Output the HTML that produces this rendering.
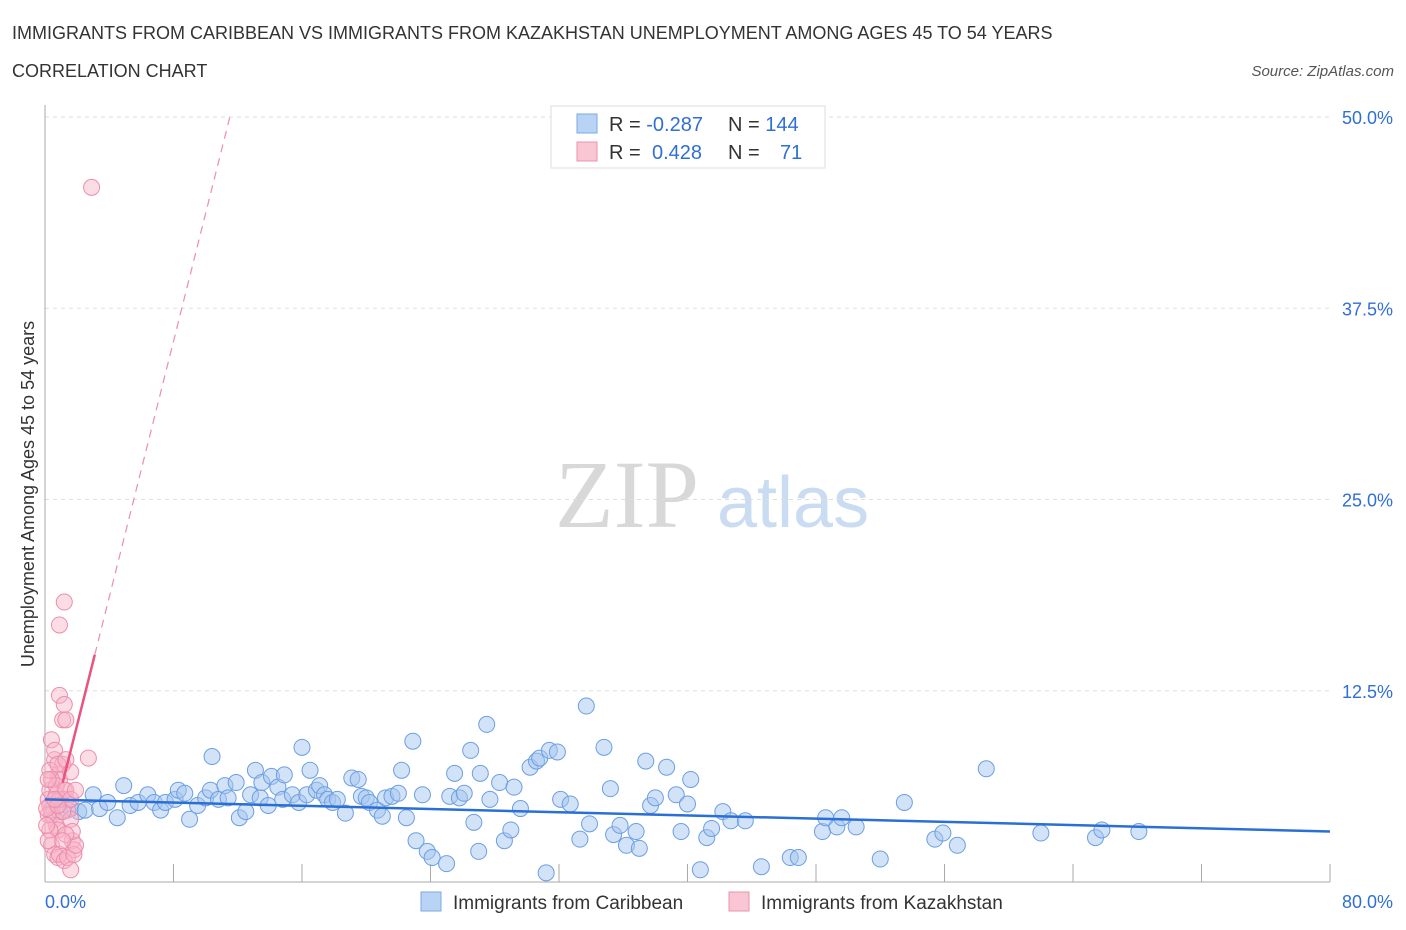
<!DOCTYPE html>
<html><head><meta charset="utf-8"><style>
body{margin:0;background:#fff;font-family:"Liberation Sans",sans-serif}
svg{display:block}
</style></head><body>
<svg id="chart" width="1406" height="930" xmlns="http://www.w3.org/2000/svg" font-family="Liberation Sans, sans-serif">
<text x="12" y="39" font-size="18" fill="#333">IMMIGRANTS FROM CARIBBEAN VS IMMIGRANTS FROM KAZAKHSTAN UNEMPLOYMENT AMONG AGES 45 TO 54 YEARS</text>
<text x="12" y="77" font-size="18" fill="#333">CORRELATION CHART</text>
<text x="1394" y="76" font-size="15" fill="#555" font-style="italic" text-anchor="end">Source: ZipAtlas.com</text>
<g>
<text x="555" y="527" font-size="96" font-family="Liberation Serif, serif" fill="#d8d8d8">ZIP</text>
<text x="717" y="527" font-size="72" fill="#c9dcf2">atlas</text>
</g>
<g id="grid"></g>
<g id="axes"></g>
<g id="marks"></g>
<g>
<rect x="551" y="106" width="274" height="62" fill="#fff" stroke="#ddd"/>
<rect x="577" y="114" width="20" height="19" fill="#b9d3f5" stroke="#7aa8e6"/>
<rect x="577" y="142" width="20" height="19" fill="#f9c6d4" stroke="#eb93ad"/>
<text x="609" y="131" font-size="20" fill="#333">R = <tspan fill="#2f6fd6">-0.287</tspan></text>
<text x="728" y="131" font-size="20" fill="#333">N = <tspan fill="#2f6fd6">144</tspan></text>
<text x="609" y="159" font-size="20" fill="#333">R = <tspan fill="#2f6fd6" x="652">0.428</tspan></text>
<text x="728" y="159" font-size="20" fill="#333">N = <tspan fill="#2f6fd6" x="780">71</tspan></text>
</g>
<g>
<rect x="421" y="892" width="20" height="19" fill="#b9d3f5" stroke="#7aa8e6"/>
<text x="453" y="909" font-size="19" fill="#333">Immigrants from Caribbean</text>
<rect x="729" y="892" width="20" height="19" fill="#f9c6d4" stroke="#eb93ad"/>
<text x="761" y="909" font-size="19" fill="#333">Immigrants from Kazakhstan</text>
</g>
<text transform="translate(34,494) rotate(-90)" font-size="18" fill="#333" text-anchor="middle">Unemployment Among Ages 45 to 54 years</text>
</svg>
<script>
const yTicks=[12.5,25,37.5,50];
const yTickLabels=["12.5%","25.0%","37.5%","50.0%"];
const xTicks=[0,8,16,24,32,40,48,56,64,72,80];
const blueX=[0.4,0.9,1.6,2.1,2.5,3.0,3.4,3.9,4.5,4.9,5.3,5.8,6.4,6.8,7.2,7.5,8.1,8.3,8.7,9.0,9.5,10.0,10.3,10.4,10.8,11.2,11.4,11.9,12.1,12.5,12.8,13.1,13.4,13.5,13.9,14.1,14.5,14.8,14.9,15.4,15.8,16.0,16.3,16.5,16.9,17.1,17.4,17.6,17.9,18.2,18.7,19.1,19.5,19.7,20.0,20.2,20.7,21.0,21.2,21.6,22.0,22.2,22.5,22.9,23.1,23.5,23.8,24.1,25.0,25.2,25.5,25.8,26.1,26.5,26.7,27.0,27.1,27.5,27.7,28.3,28.6,29.0,29.2,29.6,30.2,30.6,30.8,31.2,31.4,31.9,32.1,32.7,33.3,33.7,33.9,34.8,35.2,35.4,35.8,36.2,36.8,37.0,37.4,37.7,38.0,38.7,39.3,39.6,40.0,40.2,40.8,41.2,41.5,42.2,42.7,43.6,44.6,46.4,46.9,48.4,48.6,49.3,49.6,50.5,52.0,53.5,55.4,55.9,56.8,58.6,62.0,65.4,65.8,68.1];
const blueY=[4.7,4.6,4.8,4.6,4.7,5.7,4.8,5.2,4.2,6.3,5.0,5.2,5.7,5.2,4.7,5.2,5.4,6.0,5.8,4.1,5.0,5.5,6.0,8.2,5.4,6.3,5.5,6.5,4.2,4.6,5.7,7.3,5.5,6.5,5.0,6.9,6.2,5.4,7.0,5.7,5.2,8.8,5.7,7.3,6.0,6.3,5.7,5.4,5.2,5.4,4.5,6.8,6.7,5.6,5.5,5.2,4.7,4.3,5.5,5.6,5.8,7.3,4.2,9.2,2.7,5.7,2.0,1.6,1.2,5.6,7.1,5.5,5.8,8.6,3.9,2.0,7.1,10.3,5.4,6.5,2.7,3.4,6.2,4.8,7.5,7.9,8.1,0.6,8.6,8.5,5.4,5.1,2.8,11.5,3.8,8.8,6.1,3.1,3.7,2.4,3.3,2.2,7.9,5.0,5.5,7.5,5.7,3.3,5.1,6.7,0.8,2.9,3.5,4.6,4.0,4.0,1.0,1.6,1.6,3.3,4.2,3.6,4.2,3.6,1.5,5.2,2.8,3.2,2.4,7.4,3.2,2.9,3.4,3.3];
const pinkX=[0.4,0.6,0.8,0.9,1.1,1.2,1.3,1.4,1.6,1.7,1.8,0.9,1.1,1.2,1.3,0.9,1.2,2.9,2.7,0.2,0.3,0.4,0.6,0.7,0.8,0.3,0.4,0.6,0.8,0.9,1.2,1.4,1.6,1.8,1.9,1.7,1.3,0.2,0.3,0.7,1.1,0.2,0.4,0.7,0.9,1.3,1.6,0.3,0.6,0.8,0.1,0.1,0.2,1.6,1.1,0.8,0.6,1.9,1.3];
const pinkY=[9.3,8.0,7.0,6.7,7.7,6.0,5.4,4.7,4.1,2.7,2.1,12.2,10.6,11.6,10.6,16.8,18.3,45.4,8.1,5.4,5.0,4.4,4.1,3.7,3.4,3.4,2.4,1.8,1.6,1.8,1.4,1.6,0.8,1.8,2.4,3.3,3.1,2.7,6.0,5.7,4.6,4.4,6.7,6.3,5.4,6.0,5.4,7.3,8.6,7.7,3.7,4.8,6.7,7.2,2.7,5.0,5.4,6.0,8.0];
const blueTrend=[5.4,3.3];
const pinkIntercept=1.9, pinkSlope=4.18;

const X0=45,X1=1330,Y0=882,Y1=117;
const sx=v=>X0+(v/80)*(X1-X0);
const sy=v=>Y0-(v/50)*(Y0-Y1);
const NS="http://www.w3.org/2000/svg";
function mk(tag,attrs,parent){const e=document.createElementNS(NS,tag);for(const k in attrs)e.setAttribute(k,attrs[k]);parent.appendChild(e);return e;}
const grid=document.getElementById('grid'),axes=document.getElementById('axes'),marks=document.getElementById('marks');
yTicks.forEach((t,i)=>{
 const l=mk('line',{x1:X0,x2:X1,y1:sy(t),y2:sy(t),stroke:'#ddd','stroke-dasharray':'4,4'},grid);
 
 
 const tx=mk('text',{x:1393,y:sy(t)+7,'font-size':18,fill:'#2f6fd6','text-anchor':'end'},axes);
 tx.textContent=yTickLabels[i];
 
 
});
const ya=mk('line',{x1:X0,x2:X0,y1:105,y2:Y0,stroke:'#aaa'},axes);


const xa=mk('line',{x1:X0,x2:X1,y1:Y0,y2:Y0,stroke:'#aaa'},axes);


xTicks.forEach(t=>{
 const l=mk('line',{x1:sx(t),x2:sx(t),y1:Y0,y2:Y0-18,stroke:'#aaa'},axes);
 
 
});
const xl0=mk('text',{x:45,y:908,'font-size':18,fill:'#2f6fd6'},axes);xl0.textContent='0.0%';


const xl1=mk('text',{x:1393,y:908,'font-size':18,fill:'#2f6fd6','text-anchor':'end'},axes);xl1.textContent='80.0%';


blueX.forEach((x,i)=>{
 const c=mk('circle',{cx:sx(x),cy:sy(blueY[i]),r:8,fill:'rgba(165,198,240,0.5)',stroke:'#6b9fe3','stroke-width':1},marks);
 
 
});
pinkX.forEach((x,i)=>{
 const c=mk('circle',{cx:sx(x),cy:sy(pinkY[i]),r:8,fill:'rgba(248,180,200,0.45)',stroke:'#ec8eab','stroke-width':1},marks);
 
 
});
const bt=mk('line',{x1:sx(0),y1:sy(blueTrend[0]),x2:sx(80),y2:sy(blueTrend[1]),stroke:'#2a6fd6','stroke-width':2.5},marks);


const pf=x=>pinkIntercept+pinkSlope*x;
const pt=mk('line',{x1:sx(1.1),y1:sy(pf(1.1)),x2:sx(3.1),y2:sy(pf(3.1)),stroke:'#e8547f','stroke-width':2.5},marks);


const xe=(50-pinkIntercept)/pinkSlope;
const pd=mk('line',{x1:sx(3.1),y1:sy(pf(3.1)),x2:sx(xe),y2:sy(50),stroke:'#ec8eab','stroke-width':1.2,'stroke-dasharray':'8,6'},marks);


</script>
</body></html>
